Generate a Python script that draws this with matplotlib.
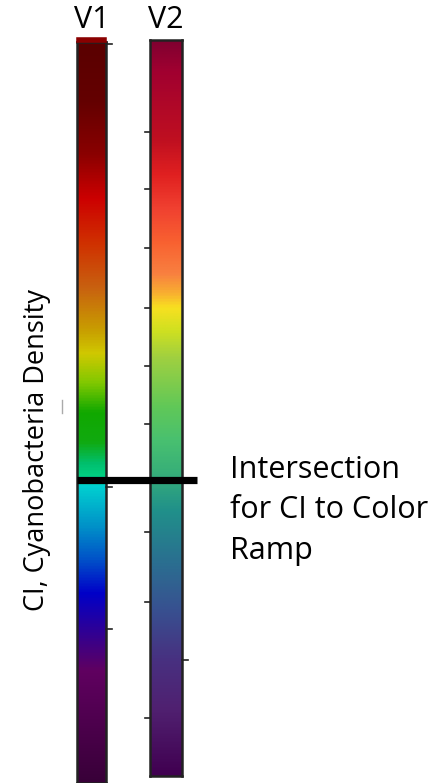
import numpy as np
import matplotlib
matplotlib.use("Agg")
import matplotlib.pyplot as plt
from matplotlib.colors import LinearSegmentedColormap
from matplotlib.lines import Line2D

plt.rcParams['font.family'] = ['Open Sans', 'DejaVu Sans']

# Colour ramp stops, read top (0) to bottom (1)
v1_pos = [0.0, 0.08, 0.15, 0.21, 0.27, 0.33, 0.39, 0.42, 0.46, 0.50, 0.54, 0.57, 0.585, 0.60, 0.655, 0.70, 0.745, 0.85, 1.0]
v1_colors = ["#5a0000", "#640000", "#8a0000", "#cc0000", "#d03000", "#c86010", "#c8a000",
             "#d0c800", "#80c800", "#10a800", "#10aa10", "#00c070", "#00d080", "#00d0d0",
             "#0090c8", "#0050c8", "#0000c8", "#600060", "#380038"]

v2_pos = [0.0, 0.04, 0.136, 0.181, 0.227, 0.272, 0.317, 0.344, 0.363, 0.394, 0.431, 0.499, 0.545, 0.586, 0.640, 0.708, 0.776, 0.844, 0.912, 1.0]
v2_colors = ["#800030", "#a00030", "#c01020", "#e02020", "#f04030", "#f86030", "#f88040",
             "#f8b030", "#f8e020", "#d0e020", "#a0d040", "#60c858", "#48c070", "#38b078",
             "#20908a", "#2a7090", "#385090", "#483080", "#502070", "#400050"]

v1_ticks_right = [44, 487, 629]
v2_ticks_left = [132, 189, 248, 308, 366, 424, 532, 602, 718]
v2_ticks_right = [660]

labels = ["V1", "V2"]
ylabel = "CI, Cyanobacteria Density"
note = "Intersection\nfor CI to Color\nRamp"
intersection_y = 480

W, H = 448, 783
fig = plt.figure(figsize=(W / 100, H / 100), dpi=100)

def fx(px):
    return px / W

def fy(py):
    return 1 - py / H

grad = np.linspace(0, 1, 512).reshape(-1, 1)

bars = [
    (77, 42, 106, 783, v1_pos, v1_colors),
    (150, 40, 182, 776, v2_pos, v2_colors),
]
axes = []
for (x0, y0, x1, y1, pos, cols), lab in zip(bars, labels):
    ax = fig.add_axes([fx(x0), fy(y1), fx(x1 - x0), (y1 - y0) / H])
    cmap = LinearSegmentedColormap.from_list(lab, list(zip(pos, cols)))
    ax.imshow(grad, aspect='auto', cmap=cmap, extent=[0, 1, y1, y0], interpolation='bilinear')
    ax.set_xlim(0, 1)
    ax.set_ylim(y1, y0)
    ax.set_xticks([])
    ax.set_yticks([])
    for s in ax.spines.values():
        s.set_linewidth(1.8)
        s.set_edgecolor("#222222")
    axes.append(ax)
    fig.text(fx((x0 + x1) / 2), fy(20), lab, ha='center', va='center', fontsize=22, color='black')

# small top slice of V1
fig.add_artist(Line2D([fx(79), fx(104)], [fy(39.5), fy(39.5)], color="#8a0000", lw=4))

# tick marks
for t in v1_ticks_right:
    fig.add_artist(Line2D([fx(106), fx(112)], [fy(t), fy(t)], color="#222222", lw=1.2))
for t in v2_ticks_left:
    fig.add_artist(Line2D([fx(145), fx(150)], [fy(t), fy(t)], color="#222222", lw=1.2))
for t in v2_ticks_right:
    fig.add_artist(Line2D([fx(182), fx(188)], [fy(t), fy(t)], color="#222222", lw=1.2))
fig.add_artist(Line2D([fx(62), fx(62)], [fy(400), fy(413)], color="#aaaaaa", lw=1.0))

# intersection line
fig.add_artist(Line2D([fx(77), fx(197)], [fy(intersection_y), fy(intersection_y)], color="black", lw=5.2, solid_capstyle='butt'))

fig.text(fx(37), fy(450), ylabel, rotation=90, ha='center', va='center', fontsize=19.5, color='black')
fig.text(fx(230), fy(455), note, ha='left', va='top', fontsize=22, color='black', linespacing=1.45)

fig.savefig("out.png", dpi=100)
